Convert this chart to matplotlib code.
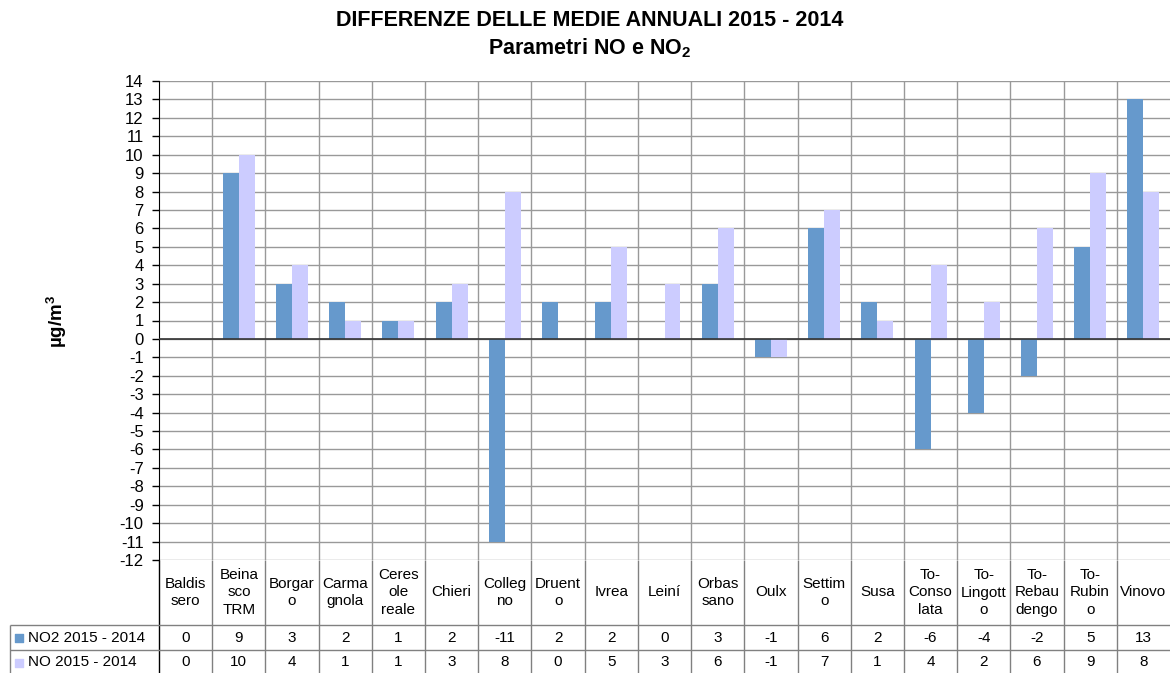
import numpy as np
import matplotlib
matplotlib.use("Agg")
import matplotlib.pyplot as plt

plt.rcParams['font.family'] = ['Liberation Sans', 'DejaVu Sans']
plt.rcParams['mathtext.fontset'] = 'custom'
plt.rcParams['mathtext.rm'] = 'Liberation Sans'
plt.rcParams['mathtext.bf'] = 'Liberation Sans:bold'
plt.rcParams['axes.unicode_minus'] = False

# Data
stations = ["Baldis\nsero", "Beina\nsco\nTRM", "Borgar\no", "Carma\ngnola", "Ceres\nole\nreale",
            "Chieri", "Colleg\nno", "Druent\no", "Ivrea", "Leiní", "Orbas\nsano", "Oulx",
            "Settim\no", "Susa", "To-\nConso\nlata", "To-\nLingott\no", "To-\nRebau\ndengo",
            "To-\nRubin\no", "Vinovo"]
no2_diff = [0, 9, 3, 2, 1, 2, -11, 2, 2, 0, 3, -1, 6, 2, -6, -4, -2, 5, 13]
no_diff = [0, 10, 4, 1, 1, 3, 8, 0, 5, 3, 6, -1, 7, 1, 4, 2, 6, 9, 8]
series_names = ["NO2 2015 - 2014", "NO 2015 - 2014"]
series_colors = ["#6699CC", "#CCCCFF"]

W, H = 1170, 673
fig = plt.figure(figsize=(W / 100, H / 100), dpi=100)

# pixel layout
x0, x1 = 159, 1170
y_top, y_bot = 81, 560
ax = fig.add_axes([x0 / W, 1 - y_bot / H, (x1 - x0) / W, (y_bot - y_top) / H])

n = len(stations)
x = np.arange(n)
bw = 0.3
ax.bar(x - bw / 2, no2_diff, bw, color=series_colors[0], zorder=2)
ax.bar(x + bw / 2, no_diff, bw, color=series_colors[1], zorder=2)

ax.set_xlim(-0.5, n - 0.5)
ax.set_ylim(-12, 14)
ax.set_yticks(range(-12, 15))
ax.set_xticks([])
for yv in range(-12, 15):
    ax.axhline(yv, color="#999999", lw=1, zorder=1)
for b in np.arange(0.5, n - 0.5, 1):
    ax.axvline(b, color="#999999", lw=1, zorder=1)
ax.axhline(0, color="#333333", lw=1.2, zorder=3)
for s in ["top", "right", "bottom"]:
    ax.spines[s].set_visible(False)
ax.spines["left"].set_color("black")
ax.tick_params(axis="y", direction="out", length=5, width=1, labelsize=12, pad=6, colors="black")

fig.text(590 / W, 1 - 21 / H, "DIFFERENZE DELLE MEDIE ANNUALI 2015 - 2014",
         ha="center", va="center", fontsize=15.5, fontweight="bold")
fig.text(590 / W, 1 - 48 / H, r"Parametri NO e NO$_\mathbf{2}$",
         ha="center", va="center", fontsize=15.5, fontweight="bold")
fig.text(57 / W, 1 - 321 / H, r"µg/m$^\mathbf{3}$", rotation=90,
         ha="center", va="center", fontsize=13.5, fontweight="bold")

# data table under the plot
tab = fig.add_axes([x0 / W, 0, (x1 - x0) / W, (H - y_bot) / H])
tab.set_xlim(-0.5, n - 0.5)
tab.set_ylim(H - y_bot, 0)
tab.axis("off")
px = (x1 - x0) / n
left = -0.5 - 149 / px
rows = [65, 90, 115]
line_c = "#808080"
tab.vlines(np.arange(0.5, n - 0.5, 1), 0, 115, color=line_c, lw=1, clip_on=False)
tab.vlines(-0.5, 0, 115, color="black", lw=1, clip_on=False)
tab.vlines(left, rows[0], 115, color=line_c, lw=1, clip_on=False)
tab.hlines(rows[:2], left, n - 0.5, color=line_c, lw=1, clip_on=False)

for i, name in enumerate(stations):
    tab.text(i, 32.5, name, ha="center", va="center", fontsize=11, linespacing=1.3)
for r, (vals, name, col) in enumerate(zip([no2_diff, no_diff], series_names, series_colors)):
    yc = (rows[r] + rows[r + 1]) / 2
    for i, v in enumerate(vals):
        tab.text(i, yc, str(v), ha="center", va="center", fontsize=11)
    tab.scatter([left + 9 / px], [yc], marker="s", s=30, color=col, clip_on=False)
    tab.text(left + 18 / px, yc, name, ha="left", va="center", fontsize=11)

fig.savefig("out.png", dpi=100)
